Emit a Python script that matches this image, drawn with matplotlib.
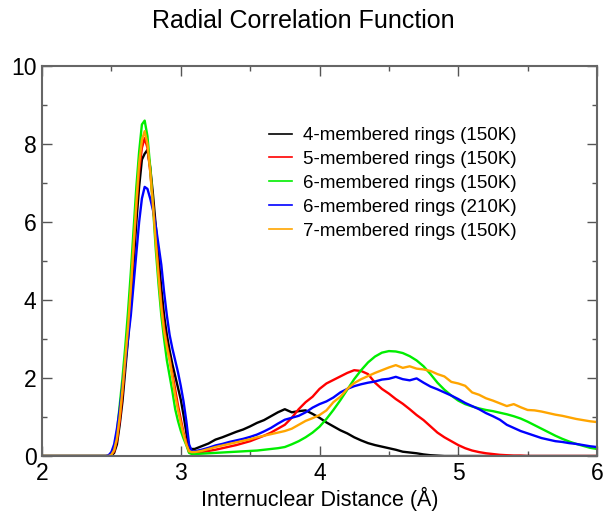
import matplotlib
matplotlib.use("Agg")
import matplotlib.pyplot as plt
from matplotlib.ticker import MultipleLocator

plt.rcParams['font.family'] = ['Liberation Sans', 'DejaVu Sans']

# x grid (Å)
x_peak = [2.0, 2.40, 2.42, 2.44, 2.46, 2.48, 2.50, 2.52, 2.54, 2.56, 2.58, 2.60, 2.62, 2.64,
          2.66, 2.68, 2.70, 2.72, 2.74, 2.76, 2.78, 2.80, 2.82, 2.84, 2.86, 2.88,
          2.90, 2.92, 2.94, 2.96, 2.98, 3.00, 3.02, 3.04, 3.06, 3.08]
x_tail = [3.10, 3.15, 3.20, 3.25, 3.30, 3.35, 3.40, 3.45, 3.50, 3.55, 3.60, 3.65, 3.70,
          3.75, 3.80, 3.85, 3.90, 3.95, 4.00, 4.05, 4.10, 4.15, 4.20, 4.25, 4.30, 4.35,
          4.40, 4.45, 4.50, 4.55, 4.60, 4.65, 4.70, 4.75, 4.80, 4.85, 4.90, 4.95, 5.00,
          5.05, 5.10, 5.15, 5.20, 5.25, 5.30, 5.35, 5.40, 5.45, 5.50, 5.55, 5.60, 5.65,
          5.70, 5.75, 5.80, 5.85, 5.90, 5.95, 6.00]
distance = x_peak + x_tail

labels = ["4-membered rings (150K)", "5-membered rings (150K)", "6-membered rings (150K)",
          "6-membered rings (210K)", "7-membered rings (150K)"]
colors = ["#000000", "#ff0000", "#00ee00", "#0000ff", "#ffa500"]

ring4_150 = [0, 0, 0, 0, 0, 0, 0.01, 0.08, 0.30, 0.80, 1.40, 2.20, 3.00, 3.90,
             4.90, 6.00, 6.90, 7.60, 7.75, 7.85, 7.40, 6.70, 5.90, 5.10, 4.30, 3.60,
             3.10, 2.70, 2.35, 2.05, 1.75, 1.45, 1.05, 0.60, 0.20, 0.18] + \
            [0.18, 0.25, 0.32, 0.42, 0.48, 0.55, 0.62, 0.68, 0.76, 0.85, 0.92, 1.02, 1.12,
             1.20, 1.12, 1.15, 1.17, 1.08, 0.98, 0.86, 0.76, 0.66, 0.58, 0.48, 0.40, 0.33,
             0.28, 0.24, 0.20, 0.16, 0.11, 0.09, 0.07, 0.04, 0.02, 0.01, 0, 0, 0,
             0, 0, 0, 0, 0, 0, 0, 0, 0, 0, 0, 0, 0,
             0, 0, 0, 0, 0, 0, 0]

ring5_150 = [0, 0, 0, 0, 0, 0, 0.03, 0.12, 0.40, 0.90, 1.60, 2.40, 3.20, 4.20,
             5.30, 6.40, 7.30, 7.90, 8.15, 7.90, 7.30, 6.50, 5.60, 4.70, 3.90, 3.30,
             2.85, 2.50, 2.10, 1.70, 1.30, 0.95, 0.60, 0.35, 0.10, 0.08] + \
            [0.08, 0.10, 0.13, 0.16, 0.20, 0.24, 0.28, 0.33, 0.38, 0.45, 0.52, 0.60, 0.70,
             0.80, 0.98, 1.20, 1.38, 1.52, 1.72, 1.86, 1.95, 2.04, 2.13, 2.20, 2.18, 2.10,
             1.88, 1.72, 1.60, 1.46, 1.34, 1.20, 1.05, 0.92, 0.76, 0.60, 0.48, 0.38, 0.28,
             0.20, 0.14, 0.10, 0.07, 0.05, 0.03, 0.02, 0.01, 0.01, 0, 0, 0, 0,
             0, 0, 0, 0, 0, 0, 0]

ring6_150 = [0, 0, 0, 0, 0, 0, 0.05, 0.20, 0.60, 1.30, 2.00, 2.80, 3.70, 4.70,
             5.80, 6.90, 7.80, 8.50, 8.60, 8.20, 7.40, 6.40, 5.30, 4.40, 3.60, 3.00,
             2.45, 2.05, 1.65, 1.20, 0.90, 0.65, 0.45, 0.28, 0.08, 0.05] + \
            [0.05, 0.06, 0.07, 0.08, 0.09, 0.10, 0.11, 0.12, 0.13, 0.14, 0.16, 0.18, 0.20,
             0.23, 0.30, 0.38, 0.48, 0.60, 0.75, 0.95, 1.18, 1.43, 1.70, 1.97, 2.20, 2.40,
             2.55, 2.65, 2.69, 2.68, 2.64, 2.56, 2.45, 2.30, 2.10, 1.88, 1.70, 1.55, 1.42,
             1.33, 1.27, 1.22, 1.18, 1.15, 1.11, 1.07, 1.02, 0.96, 0.88, 0.79, 0.70, 0.61,
             0.52, 0.44, 0.37, 0.31, 0.26, 0.21, 0.18]

ring6_210 = [0, 0, 0, 0, 0, 0.02, 0.10, 0.30, 0.70, 1.20, 1.80, 2.40, 3.00, 3.60,
             4.40, 5.20, 6.00, 6.60, 6.90, 6.85, 6.60, 6.30, 5.90, 5.40, 4.90, 4.20,
             3.60, 3.10, 2.75, 2.45, 2.15, 1.80, 1.40, 0.90, 0.30, 0.12] + \
            [0.12, 0.16, 0.21, 0.27, 0.31, 0.36, 0.40, 0.44, 0.49, 0.55, 0.63, 0.72, 0.83,
             0.93, 0.98, 1.03, 1.12, 1.24, 1.33, 1.40, 1.50, 1.63, 1.72, 1.79, 1.84, 1.88,
             1.91, 1.96, 1.98, 2.03, 1.97, 1.94, 1.99, 1.88, 1.78, 1.71, 1.63, 1.55, 1.46,
             1.36, 1.28, 1.20, 1.10, 1.02, 0.93, 0.80, 0.72, 0.64, 0.58, 0.52, 0.46, 0.42,
             0.38, 0.36, 0.33, 0.31, 0.28, 0.25, 0.23]

ring7_150 = [0, 0, 0, 0, 0, 0, 0.03, 0.15, 0.45, 1.00, 1.70, 2.50, 3.30, 4.30,
             5.40, 6.50, 7.50, 8.10, 8.33, 8.00, 7.30, 6.40, 5.50, 4.60, 3.80, 3.20,
             2.80, 2.45, 2.00, 1.55, 1.18, 0.85, 0.55, 0.30, 0.12, 0.10] + \
            [0.10, 0.13, 0.18, 0.23, 0.27, 0.31, 0.35, 0.39, 0.43, 0.48, 0.52, 0.56, 0.60,
             0.64, 0.70, 0.80, 0.90, 0.97, 1.05, 1.17, 1.38, 1.52, 1.72, 1.87, 1.97, 2.05,
             2.13, 2.20, 2.27, 2.33, 2.26, 2.30, 2.24, 2.22, 2.18, 2.10, 2.04, 1.90, 1.86,
             1.80, 1.63, 1.57, 1.48, 1.42, 1.35, 1.28, 1.33, 1.25, 1.18, 1.17, 1.14, 1.10,
             1.06, 1.03, 0.99, 0.95, 0.92, 0.89, 0.87]

series = [ring4_150, ring5_150, ring6_150, ring6_210, ring7_150]

fig = plt.figure(figsize=(6.06, 5.14), dpi=100)
ax = fig.add_axes([42/606, 1 - 456/514, (597-42)/606, (456-66)/514])

for ys, c, lab in zip(series, colors, labels):
    ax.plot(distance, ys, color=c, lw=1.7, label=lab)

ax.set_xlim(2, 6)
ax.set_ylim(0, 10)
ax.xaxis.set_major_locator(MultipleLocator(1))
ax.xaxis.set_minor_locator(MultipleLocator(0.5))
ax.yaxis.set_major_locator(MultipleLocator(2))
ax.yaxis.set_minor_locator(MultipleLocator(1))
ax.tick_params(which='both', direction='in', top=True, right=True, color='#555555', width=1.0)
ax.tick_params(which='major', length=7, labelsize=16.5, pad=4)
ax.tick_params(which='minor', length=3.6)
for s in ax.spines.values():
    s.set_color('#666666')
    s.set_linewidth(1.5)

ax.set_xlabel("Internuclear Distance (Å)", fontsize=15.5, labelpad=2)
fig.text(0.5, 1 - 21/514, "Radial Correlation Function", ha='center', va='center', fontsize=18)

leg = ax.legend(loc='upper left', bbox_to_anchor=(269/606, 1 - 127/514),
                bbox_transform=fig.transFigure, frameon=False, fontsize=13.5,
                handlelength=1.25, handletextpad=0.55, labelspacing=0.36,
                borderpad=0, borderaxespad=0)
for h in leg.get_lines():
    h.set_linewidth(1.2)

fig.savefig("out.png", dpi=100)
